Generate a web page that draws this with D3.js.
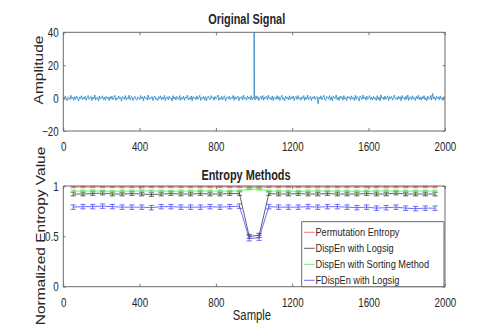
<!DOCTYPE html>
<html><head><meta charset="utf-8">
<script src="https://cdn.jsdelivr.net/npm/d3@7"></script>
<style>body{margin:0;background:#fff}svg{display:block}text{font-family:"Liberation Sans",Arial,sans-serif;fill:#262626}</style>
</head><body>
<script>
// ---- data ----
const xTicks = [0, 400, 800, 1200, 1600, 2000];
const ampTicks = [-20, 0, 20, 40];
const entTicks = [0, 0.5, 1];
const noiseStep = 5;
const noise = [
0.6,-0.9,1.3,-0.4,-1.6,0.8,0.2,-1.1,1.7,-0.3,0.5,-1.4,0.9,-0.7,1.2,0.1,-1.8,0.7,-0.2,1.5,-1.0,0.4,-0.6,1.1,-1.3,
0.3,1.6,-0.8,-0.1,1.0,-1.5,0.6,-0.4,1.9,-1.2,0.2,0.8,-1.7,1.3,-0.5,0.0,1.4,-0.9,0.5,-1.3,1.1,-0.2,0.7,-1.6,0.9,
-0.6,1.2,-1.0,0.4,1.7,-1.4,0.1,-0.7,1.3,-0.3,0.6,-1.9,1.0,0.2,-0.8,1.5,-1.1,0.3,-0.4,1.8,-1.2,0.5,0.9,-1.5,0.1,
1.1,-0.6,-1.3,0.7,0.3,-1.0,1.6,-0.5,0.8,-1.7,1.2,-0.1,0.4,-1.2,1.9,-0.8,0.2,-0.3,1.0,-1.5,0.6,1.3,-0.9,0.0,-1.4,
0.9,-0.2,1.4,-1.1,0.5,-0.7,1.7,-1.6,0.3,0.8,-1.0,1.2,-0.4,0.1,-1.8,1.5,-0.6,0.7,-1.2,1.0,0.2,-0.9,1.6,-1.3,0.4,
-0.5,1.1,-1.4,0.6,0.0,1.8,-1.1,0.3,-0.8,1.3,-1.6,0.9,-0.2,0.5,-1.0,1.4,-0.7,0.2,1.7,-1.5,0.4,-0.3,1.0,-1.2,0.8,
-1.7,0.6,1.2,-0.5,-0.9,1.5,-0.1,0.7,-1.3,1.0,-0.6,0.3,1.9,-1.4,0.2,-0.8,1.1,-1.1,0.5,1.4,-1.8,0.1,0.8,-0.4,1.2,
-1.0,0.4,-0.2,1.6,-1.3,0.9,-0.7,0.3,1.2,-1.6,0.6,-0.1,1.0,-1.2,1.8,-0.5,0.2,-1.4,1.3,-0.3,0.7,-0.9,1.5,-1.1,0.5,
0.4,-1.2,1.4,-0.6,0.9,-1.5,0.2,1.1,-0.8,1.6,-1.3,0.5,-0.2,1.2,-1.0,1.8,-0.5,0.3,-1.1,1.3,-1.6,0.8,0.1,-0.9,1.5,
-0.7,0.9,-1.4,0.4,1.7,-0.8,0.2,-1.6,1.2,-0.3,0.6,-1.2,1.4,-0.9,0.8,-0.4,1.3,-1.5,0.5,1.0,-0.9,1.6,-0.6,0.2,-1.3,
0.8,-0.3,1.5,-1.4,0.5,-0.7,1.9,-1.0,0.3,1.1,-1.6,0.7,-0.2,1.2,-0.9,0.4,1.0,-3.5,0.6,-0.5,1.4,-1.1,0.3,1.7,-0.8,
-1.5,1.0,0.4,-0.6,1.6,-1.2,0.8,-1.7,1.3,0.1,-0.4,1.8,-1.0,0.5,-1.4,1.2,-0.2,0.9,-1.3,1.5,-0.6,0.4,-1.6,1.1,0.0,
0.8,-1.1,1.4,-0.5,0.3,-1.5,1.7,-0.8,1.0,-0.1,-1.8,1.3,0.4,-0.9,1.9,-0.4,0.7,-1.3,1.2,-0.7,0.2,1.6,-1.0,0.5,-1.2,
1.1,-0.6,0.3,-1.4,1.5,-0.9,0.7,-1.7,2.0,-0.3,0.6,-1.1,1.3,-0.8,0.1,1.4,-1.5,0.9,-0.2,1.0,-1.3,0.4,1.8,-0.7,0.2,
-1.0,1.2,-0.5,0.8,-1.6,1.6,-0.2,0.5,-1.2,1.1,-0.7,1.9,-1.4,0.3,0.9,-1.1,1.4,-0.6,0.2,-1.5,1.0,-0.3,1.7,-0.9,0.6,
-1.3,0.9,-0.4,1.5,-1.0,0.3,-1.6,1.2,0.0,-0.8,1.6,-1.2,2.8,-0.5,0.7,-1.4,1.1,-0.2,0.8,-1.1,1.4,-0.6,0.3,-1.5,1.0,
0.2];
const spikeX = [999, 1000, 1001];
const spikeY = [0.3, 43, -0.4];

const winCenters = [52,103,154,206,257,308,359,411,462,513,564,616,667,718,769,821,872,923,974,
1026,1077,1128,1179,1231,1282,1333,1384,1436,1487,1538,1589,1641,1692,1743,1794,1846,1897,1948];
const peVal = [0.99,0.99,0.991,0.99,0.99,0.989,0.99,0.99,0.991,0.99,0.99,0.99,0.989,0.99,0.99,0.991,0.99,0.99,0.988,
0.988,0.99,0.99,0.991,0.99,0.99,0.989,0.99,0.99,0.99,0.991,0.99,0.99,0.989,0.99,0.99,0.99,0.991,0.99];
const peErr = [0.006,0.006,0.006,0.006,0.006,0.006,0.006,0.006,0.006,0.006,0.006,0.006,0.006,0.006,0.006,0.006,0.006,0.006,0.006,
0.006,0.006,0.006,0.006,0.006,0.006,0.006,0.006,0.006,0.006,0.006,0.006,0.006,0.006,0.006,0.006,0.006,0.006,0.006];
const dlVal = [0.92,0.92,0.925,0.93,0.92,0.92,0.925,0.92,0.915,0.92,0.925,0.92,0.92,0.925,0.92,0.92,0.925,0.925,0.50,
0.51,0.925,0.92,0.92,0.925,0.92,0.92,0.925,0.92,0.92,0.92,0.925,0.92,0.92,0.93,0.92,0.92,0.92,0.92];
const dlErr = [0.018,0.018,0.018,0.018,0.018,0.018,0.018,0.018,0.018,0.018,0.018,0.018,0.018,0.018,0.018,0.018,0.018,0.018,0.02,
0.02,0.018,0.018,0.018,0.018,0.018,0.018,0.018,0.018,0.018,0.018,0.018,0.018,0.018,0.018,0.018,0.018,0.018,0.018];
const dsVal = [0.95,0.95,0.952,0.95,0.948,0.95,0.95,0.952,0.95,0.95,0.948,0.95,0.95,0.952,0.95,0.95,0.95,0.952,0.968,
0.968,0.95,0.95,0.95,0.948,0.95,0.952,0.95,0.95,0.95,0.948,0.95,0.95,0.952,0.95,0.95,0.95,0.95,0.95];
const dsErr = [0.01,0.01,0.01,0.01,0.01,0.01,0.01,0.01,0.01,0.01,0.01,0.01,0.01,0.01,0.01,0.01,0.01,0.01,0.008,
0.008,0.01,0.01,0.01,0.01,0.01,0.01,0.01,0.01,0.01,0.01,0.01,0.01,0.01,0.01,0.01,0.01,0.01,0.01];
const fdVal = [0.79,0.795,0.795,0.80,0.795,0.79,0.79,0.79,0.785,0.795,0.795,0.79,0.79,0.79,0.795,0.79,0.795,0.80,0.48,
0.485,0.795,0.79,0.79,0.79,0.795,0.79,0.795,0.795,0.79,0.785,0.79,0.78,0.785,0.79,0.78,0.775,0.78,0.78];
const fdErr = [0.022,0.022,0.022,0.022,0.022,0.022,0.022,0.022,0.022,0.022,0.022,0.022,0.022,0.022,0.022,0.022,0.022,0.022,0.025,
0.025,0.022,0.022,0.022,0.022,0.022,0.022,0.022,0.022,0.022,0.022,0.022,0.022,0.022,0.022,0.022,0.022,0.022,0.022];

const seriesNames = ["Permutation Entropy","DispEn with Logsig","DispEn with Sorting Method","FDispEn with Logsig"];
const seriesColors = ["#ff4d4d","#3a3a3a","#55e055","#4848ff"];

// ---- drawing ----
const W = 491, H = 327, f = 0.78;
const svg = d3.select("body").append("svg").attr("width", W).attr("height", H);
const g = svg.append("g").attr("transform", `scale(${f},1)`);

const x = d3.scaleLinear().domain([0, 2000]).range([63.3 / f, 445 / f]);
const yA = d3.scaleLinear().domain([-20, 40]).range([131, 32.3]);
const yE = d3.scaleLinear().domain([0, 1]).range([286.7, 186]);

function drawAxes(y, yticks, fmt, top, bottom) {
  const ax = g.append("g");
  ax.append("g").attr("transform", `translate(0,${bottom})`)
    .call(d3.axisBottom(x).tickValues(xTicks).tickSize(-3).tickPadding(11.5).tickFormat(d3.format("d")));
  ax.append("g").attr("transform", `translate(0,${top})`)
    .call(d3.axisTop(x).tickValues(xTicks).tickSize(-3).tickFormat(""));
  ax.append("g").attr("transform", `translate(${x.range()[0]},0)`)
    .call(d3.axisLeft(y).tickValues(yticks).tickSize(-3).tickPadding(6).tickFormat(fmt));
  ax.append("g").attr("transform", `translate(${x.range()[1]},0)`)
    .call(d3.axisRight(y).tickValues(yticks).tickSize(-3).tickFormat(""));
  ax.selectAll(".domain").remove();
  ax.selectAll(".tick line").attr("stroke", "#777").attr("vector-effect", "non-scaling-stroke");
  ax.selectAll(".tick text").attr("font-size", 12.5).attr("fill", "#262626")
    .attr("font-family", '"Liberation Sans",Arial,sans-serif');
  ax.append("rect").attr("x", x.range()[0]).attr("y", top)
    .attr("width", x.range()[1] - x.range()[0]).attr("height", bottom - top)
    .attr("fill", "none").attr("stroke", "#6a6a6a").attr("stroke-width", 1)
    .attr("vector-effect", "non-scaling-stroke");
}

// top panel
const sig = noise.map((v, i) => ({s: i * noiseStep, v}))
  .concat(spikeX.map((s, i) => ({s, v: spikeY[i]})))
  .sort((a, b) => a.s - b.s);
g.append("defs").append("clipPath").attr("id", "clipA").append("rect")
  .attr("x", x(0)).attr("y", yA(40)).attr("width", x(2000) - x(0)).attr("height", yA(-20) - yA(40));
g.append("path").datum(sig).attr("clip-path", "url(#clipA)")
  .attr("d", d3.line().x(d => x(d.s)).y(d => yA(d.v)))
  .attr("fill", "none").attr("stroke", "#1a7fc4").attr("stroke-width", 0.75)
  .attr("vector-effect", "non-scaling-stroke");
drawAxes(yA, ampTicks, d3.format("d"), 32.3, 131);

// bottom panel
const series = [[peVal, peErr], [dlVal, dlErr], [dsVal, dsErr], [fdVal, fdErr]];
series.forEach(([vals, errs], si) => {
  const col = seriesColors[si];
  const pts = winCenters.map((c, i) => ({c, v: vals[i], e: errs[i]}));
  const sg = g.append("g").attr("stroke", col).attr("fill", "none");
  sg.append("path").datum(pts).attr("d", d3.line().x(d => x(d.c)).y(d => yE(d.v)))
    .attr("stroke-width", 0.8).attr("vector-effect", "non-scaling-stroke");
  const cap = 2.6 / f;
  pts.forEach(d => {
    const cx = x(d.c), y1 = yE(d.v - d.e), y2 = yE(d.v + d.e);
    sg.append("line").attr("x1", cx).attr("x2", cx).attr("y1", y1).attr("y2", y2)
      .attr("stroke-width", 0.8).attr("vector-effect", "non-scaling-stroke");
    [y1, y2].forEach(yy => sg.append("line").attr("x1", cx - cap).attr("x2", cx + cap)
      .attr("y1", yy).attr("y2", yy).attr("stroke-width", 0.8).attr("vector-effect", "non-scaling-stroke"));
  });
});
drawAxes(yE, entTicks, d3.format(""), 186, 286.7);

// legend
const lg = g.append("g");
lg.append("rect").attr("x", 301.7 / f).attr("y", 221.7).attr("width", (444 - 301.7) / f).attr("height", 286.7 - 221.7)
  .attr("fill", "#fff").attr("stroke", "#6a6a6a").attr("vector-effect", "non-scaling-stroke");
seriesNames.forEach((n, i) => {
  const yy = 232.3 + i * 16;
  lg.append("line").attr("x1", 304 / f).attr("x2", 314.5 / f).attr("y1", yy).attr("y2", yy)
    .attr("stroke", seriesColors[i]).attr("stroke-width", 0.8).attr("vector-effect", "non-scaling-stroke");
  lg.append("text").attr("x", 315.5 / f).attr("y", yy + 4.2).attr("font-size", 11.8).text(n);
});

// titles & labels
g.append("text").attr("x", 246.7 / f).attr("y", 24.5).attr("text-anchor", "middle")
  .attr("font-size", 14).attr("font-weight", "bold").attr("fill", "#000").text("Original Signal");
g.append("text").attr("x", 246 / f).attr("y", 180.5).attr("text-anchor", "middle")
  .attr("font-size", 14).attr("font-weight", "bold").attr("fill", "#000").text("Entropy Methods");
g.append("text").attr("x", 252 / f).attr("y", 320.5).attr("text-anchor", "middle")
  .attr("font-size", 14.5).text("Sample");
g.append("text").attr("transform", `translate(${43.5 / f},70) rotate(-90)`).attr("text-anchor", "middle")
  .attr("font-size", 15.5).text("Amplitude");
g.append("text").attr("transform", `translate(${45.5 / f},236) rotate(-90)`).attr("text-anchor", "middle")
  .attr("font-size", 15.5).text("Normalized Entropy Value");
</script>
</body></html>
